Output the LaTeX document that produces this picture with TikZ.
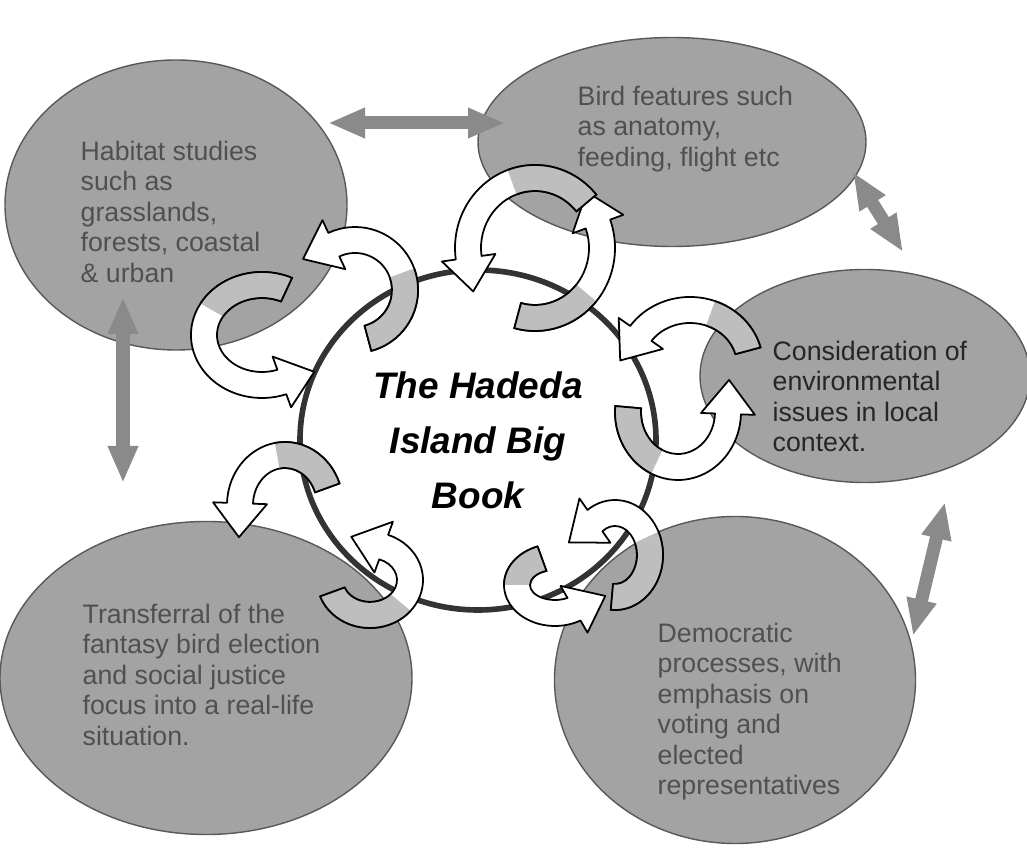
\documentclass[tikz,border=0pt]{standalone}
\usepackage{fontspec}
\setmainfont{Liberation Sans}
\usetikzlibrary{shapes.geometric,arrows.meta}

\definecolor{topicgrey}{RGB}{163,163,163}
\definecolor{tailgrey}{RGB}{190,190,190}
\definecolor{arrowgrey}{RGB}{138,138,138}
\definecolor{topicink}{RGB}{80,80,80}

\tikzset{
  topic/.style={ellipse,fill=topicgrey,draw=black!65,line width=.4pt,inner sep=0pt},
  topictext/.style={anchor=north west,align=left,inner sep=0pt,text=topicink,
    font=\fontsize{7.6}{8.7}\selectfont},
  hub/.style={ellipse,draw=black!80,line width=1.6pt,fill=white,
    minimum width=3.56cm,minimum height=3.40cm,align=center,
    font=\fontsize{10.5}{15.6}\selectfont\bfseries\itshape},
  twoway/.style={draw=arrowgrey,line width=3.7pt,
    {Triangle[length=.37cm,width=.28cm]}-{Triangle[length=.37cm,width=.28cm]}},
  ribbonbody/.style={fill=white,draw=black,line width=.5pt,line join=round},
  ribbontail/.style={fill=tailgrey},
  ribbonedge/.style={draw=black,line width=.5pt}
}

% ribbon half width, head overhang, head length
\newcommand{\rbw}{0.13}
\newcommand{\rbh}{0.14}
\newcommand{\rbl}{0.34}
% curved ribbon arrow: cx, cy, rx, ry, start angle, end of grey, end angle
\newcommand{\ribbon}[7]{%
  \pgfmathsetmacro\rdir{sign(#7-#5)}%
  \pgfmathsetmacro\rxo{#3+\rbw}\pgfmathsetmacro\ryo{#4+\rbw}%
  \pgfmathsetmacro\rxi{#3-\rbw}\pgfmathsetmacro\ryi{#4-\rbw}%
  \pgfmathsetmacro\rxh{#3+\rbw+\rbh}\pgfmathsetmacro\ryh{#4+\rbw+\rbh}%
  \pgfmathsetmacro\rxk{#3-\rbw-\rbh}\pgfmathsetmacro\ryk{#4-\rbw-\rbh}%
  \pgfmathsetmacro\rnrm{sqrt((#3*sin(#7))^2+(#4*cos(#7))^2)}%
  \pgfmathsetmacro\rtx{#3*cos(#7)-(\rdir)*\rbl*#3*sin(#7)/\rnrm}%
  \pgfmathsetmacro\rty{#4*sin(#7)+(\rdir)*\rbl*#4*cos(#7)/\rnrm}%
  \begin{scope}[shift={(#1,#2)}]
    \filldraw[ribbonbody] (#5:\rxo cm and \ryo cm)
      arc[start angle=#5,end angle=#7,x radius=\rxo,y radius=\ryo]
      -- (#7:\rxh cm and \ryh cm) -- (\rtx,\rty) -- (#7:\rxk cm and \ryk cm)
      -- (#7:\rxi cm and \ryi cm)
      arc[start angle=#7,end angle=#5,x radius=\rxi,y radius=\ryi] -- cycle;
    \fill[ribbontail] (#5:\rxo cm and \ryo cm)
      arc[start angle=#5,end angle=#6,x radius=\rxo,y radius=\ryo]
      -- (#6:\rxi cm and \ryi cm)
      arc[start angle=#6,end angle=#5,x radius=\rxi,y radius=\ryi] -- cycle;
    \draw[ribbonedge] (#6:\rxo cm and \ryo cm)
      arc[start angle=#6,end angle=#5,x radius=\rxo,y radius=\ryo]
      -- (#5:\rxi cm and \ryi cm)
      arc[start angle=#5,end angle=#6,x radius=\rxi,y radius=\ryi];
  \end{scope}}

\begin{document}
\begin{tikzpicture}
  \useasboundingbox (0,0) rectangle (10.27,-8.58);

  % topic bubbles
  \node[topic,minimum width=3.42cm,minimum height=2.90cm] (habitat) at (1.76,-2.05) {};
  \node[topic,minimum width=3.88cm,minimum height=2.09cm] (bird) at (6.72,-1.42) {};
  \node[topic,minimum width=3.30cm,minimum height=2.13cm] (environ) at (8.65,-3.76) {};
  \node[topic,minimum width=4.12cm,minimum height=3.13cm] (transfer) at (2.06,-6.78) {};
  \node[topic,minimum width=3.61cm,minimum height=3.27cm] (democ) at (7.35,-6.80) {};

  % topic texts
  \node[topictext] (habitat-txt) at (0.80,-1.40) {Habitat studies\\such as\\grasslands,\\forests, coastal\\\& urban};
  \node[topictext] (bird-txt) at (5.77,-0.85) {Bird features such\\as anatomy,\\feeding, flight etc};
  \node[topictext,text=black!85] (environ-txt) at (7.72,-3.40) {Consideration of\\environmental\\issues in local\\context.};
  \node[topictext] (transfer-txt) at (0.82,-6.03) {Transferral of the\\fantasy bird election\\and social justice\\focus into a real-life\\situation.};
  \node[topictext] (democ-txt) at (6.57,-6.22) {Democratic\\processes, with\\emphasis on\\voting and\\elected\\representatives};

  % links between neighbouring topics
  \coordinate (hb-a) at (3.28,-1.23); \coordinate (hb-b) at (5.05,-1.23);
  \coordinate (be-a) at (8.53,-1.72); \coordinate (be-b) at (9.03,-2.52);
  \coordinate (ed-a) at (9.45,-5.02); \coordinate (ed-b) at (9.13,-6.36);
  \coordinate (td-a) at (4.05,-5.63); \coordinate (td-b) at (5.56,-5.63);
  \coordinate (ht-a) at (1.23,-2.97); \coordinate (ht-b) at (1.23,-4.83);
  \draw[twoway] (hb-a) -- (hb-b);
  \draw[twoway] (be-a) -- (be-b);
  \draw[twoway] (ed-a) -- (ed-b);
  \draw[twoway] (td-a) -- (td-b);
  \draw[twoway] (ht-a) -- (ht-b);

  % the book in the middle
  \node[hub] (book) at (4.78,-4.40) {The Hadeda\\Island Big\\Book};

  % cycle ribbons, habitat
  \ribbon{2.62}{-3.35}{.58}{.50}{65}{150}{290}
  \ribbon{3.55}{-2.90}{.50}{.50}{-75}{20}{115}
  % bird
  \ribbon{5.35}{-2.48}{.67}{.70}{255}{320}{380}
  \ribbon{5.35}{-2.48}{.67}{.70}{40}{110}{188}
  % environment
  \ribbon{6.78}{-4.12}{.50}{.55}{175}{245}{358}
  \ribbon{6.90}{-3.65}{.60}{.55}{15}{70}{145}
  % democratic
  \ribbon{5.55}{-5.85}{.38}{.28}{110}{180}{300}
  \ribbon{6.15}{-5.55}{.35}{.42}{265}{385}{485}
  % transferral
  \ribbon{3.70}{-5.80}{.40}{.35}{200}{320}{430}
  \ribbon{2.85}{-5.05}{.45}{.50}{20}{100}{178}
\end{tikzpicture}
\end{document}
